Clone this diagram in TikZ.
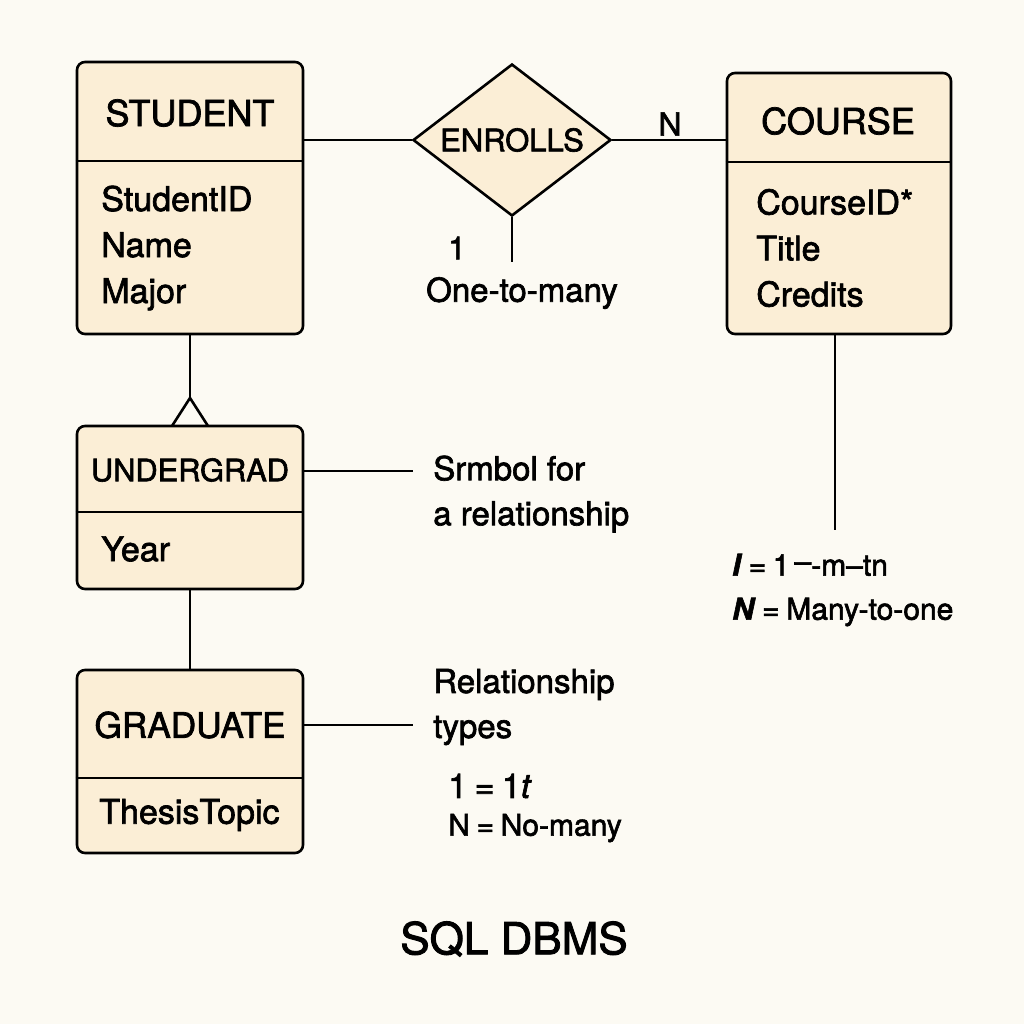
\documentclass[tikz,border=0pt]{standalone}
\usepackage{fontspec}
\setmainfont{TeX Gyre Heros}[RawFeature={embolden=2}]
\usetikzlibrary{positioning, shapes.geometric, calc}

\definecolor{paper}{RGB}{252,250,243}
\definecolor{boxfill}{RGB}{251,238,214}

\begin{document}
\begin{tikzpicture}[
    x=0.5pt, y=-0.5pt,
    line width=1.3pt,
    entity/.style={
        rectangle,
        draw,
        fill=boxfill,
        rounded corners=4pt,
        minimum width=113pt,
        inner sep=0pt
    },
    title/.style={
        font=\fontsize{18}{22}\selectfont
    },
    attr/.style={
        anchor=west,
        align=left,
        inner sep=0pt,
        font=\fontsize{17}{23}\selectfont
    },
    relation/.style={
        diamond,
        draw,
        fill=boxfill,
        aspect=1.3,
        inner sep=0pt,
        minimum width=99pt,
        minimum height=76pt,
        font=\fontsize{15.5}{18}\selectfont
    },
    note/.style={
        anchor=west,
        align=left,
        inner sep=0pt,
        font=\fontsize{16.5}{22.5}\selectfont
    }
]

    % page
    \fill[paper] (0,0) rectangle (1024,1024);
    \useasboundingbox (0,0) rectangle (1024,1024);

    % Entities
    \node[entity, minimum height=136pt] (student) at (190,198) {};
    \node[entity, minimum width=112pt, minimum height=130.5pt] (course) at (839,203.5) {};
    \node[entity, minimum height=81.5pt] (undergrad) at (190,507.5) {};
    \node[entity, minimum height=91.5pt] (graduate) at (190,761.5) {};

    % header dividers
    \coordinate (sdiv) at (0,161);
    \coordinate (cdiv) at (0,162);
    \coordinate (udiv) at (0,512);
    \coordinate (gdiv) at (0,778);
    \draw (student.west |- sdiv) -- (student.east |- sdiv);
    \draw (course.west |- cdiv) -- (course.east |- cdiv);
    \draw (undergrad.west |- udiv) -- (undergrad.east |- udiv);
    \draw (graduate.west |- gdiv) -- (graduate.east |- gdiv);

    % titles and attributes
    \node[title] (studenttitle) at (190,113) {STUDENT};
    \node[attr] (studentattr) at (100,248) {StudentID\\Name\\Major};
    \node[title] (coursetitle) at (838,121) {COURSE};
    \node[attr] (courseattr) at (755,248) {CourseID*\\Title\\Credits};
    \node[title, font=\fontsize{15.4}{20}\selectfont] (undergradtitle) at (190,470) {UNDERGRAD};
    \node[attr] (undergradattr) at (100,549) {Year};
    \node[title, font=\fontsize{17.6}{20}\selectfont] (graduatetitle) at (190,725) {GRADUATE};
    \node[attr] (graduateattr) at (98,815) {ThesisTopic};

    % Relationship
    \node[relation] (enrolls) at (512,140) {ENROLLS};
    \draw (student.east |- enrolls) -- (enrolls.west);
    \draw (enrolls.east) -- (course.west |- enrolls);
    \node[font=\fontsize{16}{18}\selectfont] (many) at (670,124) {N};

    \coordinate (enrollsend) at (512,262);
    \draw (enrolls.south) -- (enrollsend);
    \node[font=\fontsize{16}{18}\selectfont] (one) at (457,248) {1};
    \node[font=\fontsize{16.5}{18}\selectfont] (onetomany) at (522,293) {One-to-many};

    % course legend
    \coordinate (courseend) at (835,530);
    \draw (course.south -| courseend) -- (courseend);
    \node[note, font=\fontsize{15}{22}\selectfont] (courselegend) at (731,590)
        {\textbf{\textit{I}}\hspace{0.22em}=\hspace{0.22em}1\,\raisebox{0.25ex}{--}-m--tn\\\textbf{\textit{N}}\hspace{0.22em}=\hspace{0.22em}Many-to-one};

    % ISA hierarchy
    \coordinate (isatop) at (190,398);
    \coordinate (isaleft) at (172,426);
    \coordinate (isaright) at (208,426);
    \draw (student.south) -- (isatop);
    \draw[line join=miter] (isaleft) -- (isatop) -- (isaright);
    \draw (undergrad.south) -- (graduate.north);

    % notes
    \coordinate (symbolend) at (413,471);
    \draw (undergrad.east |- symbolend) -- (symbolend);
    \node[note] (symbolnote) at (432,494) {Srmbol for\\a relationship};

    \coordinate (typesend) at (413,725);
    \draw (graduate.east |- typesend) -- (typesend);
    \node[note] (typesnote) at (432,707) {Relationship\\types};
    \node[note, font=\fontsize{17}{20}\selectfont] (typesone) at (447,786) {1\hspace{0.22em}=\hspace{0.22em}1\textit{t}};
    \node[note, font=\fontsize{15}{20}\selectfont] (typesmany) at (447,828) {N\hspace{0.22em}=\hspace{0.22em}No-many};

    % caption
    \node[font=\fontsize{22}{26}\selectfont] (caption) at (514,939) {SQL DBMS};

\end{tikzpicture}
\end{document}
